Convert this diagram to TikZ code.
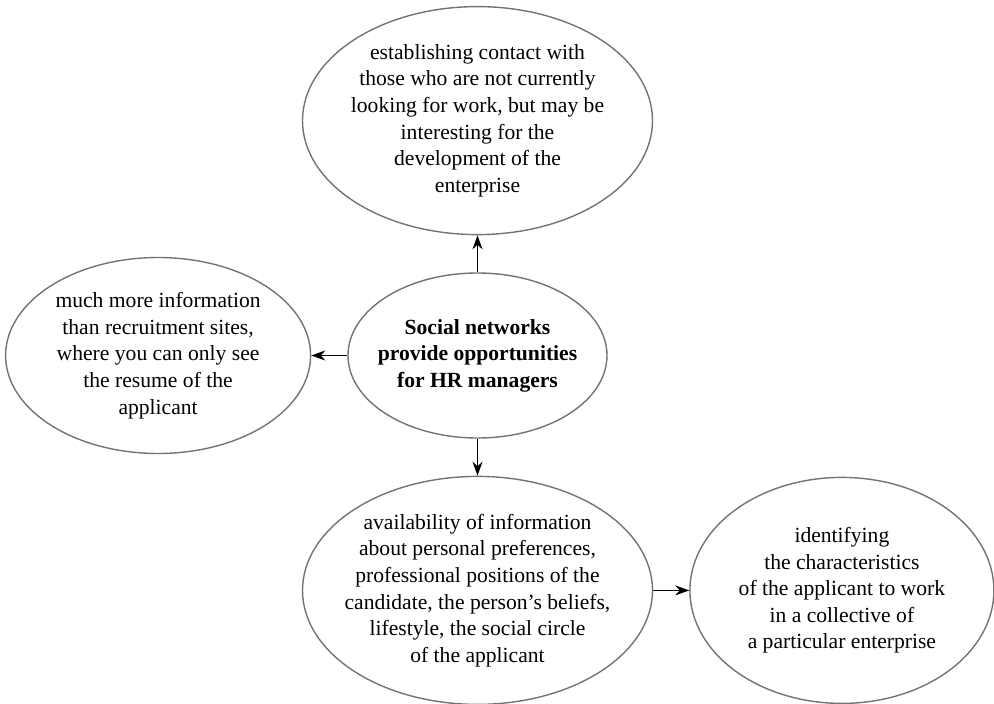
\documentclass[tikz,border=0pt]{standalone}
\usepackage{fontspec}
\setmainfont{Liberation Serif}
\usetikzlibrary{positioning}
\usetikzlibrary{shapes.geometric}
\usetikzlibrary{arrows.meta}

\begin{document}
\begin{tikzpicture}[every node/.style = {shape=ellipse, draw=black!55, line width=0.7pt,
    inner xsep=-40pt, inner ysep=-30pt, align=center, font=\fontsize{10.8}{13.3}\selectfont},
  node distance=18.5pt, >={Stealth[length=7pt,width=5pt]}, line width=0.75pt]
  \useasboundingbox (0,0) rectangle (497pt,351.5pt);
  \node (hub) at (238.75pt,173.75pt) [minimum width=129.5pt, minimum height=82.5pt,
    font=\fontsize{10.8}{13.3}\selectfont\bfseries]
    {Social networks\\provide opportunities\\for HR managers};
  \node (contact) [above=of hub, minimum width=175pt, minimum height=114pt]
    {establishing contact with\\those who are not currently\\looking for work, but may be\\interesting for the\\development of the\\enterprise} edge [<-] (hub);
  \node (info) [left=18pt of hub, minimum width=152.5pt, minimum height=98pt]
    {much more information\\than recruitment sites,\\where you can only see\\the resume of the\\applicant} edge [<-] (hub);
  \node (prefs) [below=of hub, minimum width=175pt, minimum height=114pt]
    {availability of information\\about personal preferences,\\professional positions of the\\candidate, the person’s beliefs,\\lifestyle, the social circle\\of the applicant} edge [<-] (hub);
  \node (traits) [right=18pt of prefs, minimum width=152pt, minimum height=113pt]
    {identifying\\the characteristics\\of the applicant to work\\in a collective of\\a particular enterprise} edge [<-] (prefs);
\end{tikzpicture}
\end{document}
